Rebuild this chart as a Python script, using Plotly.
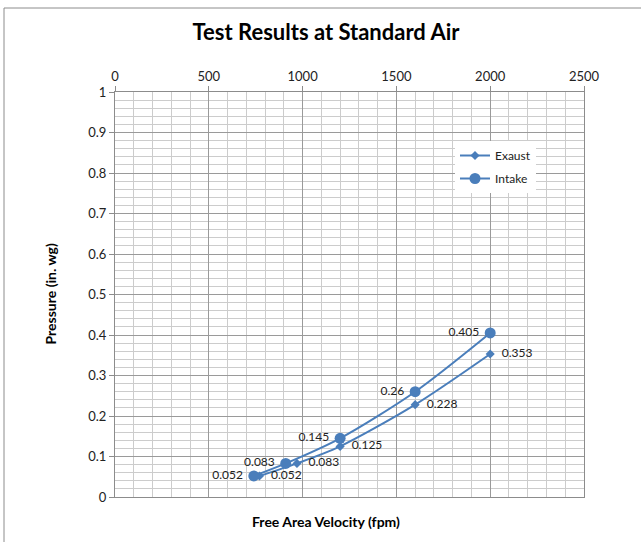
import plotly.graph_objects as go

exhaust_x = [770, 970, 1200, 1600, 2000]
exhaust_y = [0.052, 0.083, 0.125, 0.228, 0.353]
intake_x = [740, 910, 1200, 1600, 2000]
intake_y = [0.052, 0.083, 0.145, 0.26, 0.405]

blue = "#4A7EBB"
font = "Lato, Calibri, sans-serif"
W, H = 641, 542
L, R, T, B = 115, 57, 92, 45
PW, PH = W - L - R, H - T - B

fig = go.Figure()
fig.add_trace(go.Scatter(
    x=exhaust_x, y=exhaust_y, name="Exaust", mode="lines+markers+text", legendgroup="a",
    line=dict(color=blue, width=2, shape="spline", smoothing=0.8),
    marker=dict(symbol="diamond", size=7, color=blue),
    text=["  " + str(v) for v in exhaust_y], textposition="middle right",
    textfont=dict(family=font, size=12, color="#222"),
))
fig.add_trace(go.Scatter(
    x=intake_x, y=intake_y, name="Intake", mode="lines+markers+text", legendgroup="b",
    line=dict(color=blue, width=2, shape="spline", smoothing=0.8),
    marker=dict(symbol="circle", size=11, color=blue),
    text=[str(v) + " " for v in intake_y], textposition="middle left",
    textfont=dict(family=font, size=12, color="#222"),
))

fig.update_layout(
    width=W, height=H,
    margin=dict(l=L, r=R, t=T, b=B),
    paper_bgcolor="white", plot_bgcolor="white",
    font=dict(family=font, size=12, color="#222"),
    title=dict(text="<b>Test Results at Standard Air</b>", x=326 / W, xref="container",
               xanchor="center", y=1 - 32 / H, yref="container", yanchor="middle",
               font=dict(family=font, size=22, color="#000")),
    showlegend=True,
    legend=dict(x=(455 - L) / PW, y=(H - B - 141) / PH, xanchor="left", yanchor="top",
                bgcolor="white", borderwidth=0, font=dict(family=font, size=12, color="#222"),
                tracegroupgap=4, itemwidth=30),
    shapes=[
        dict(type="line", xref="paper", yref="paper", x0=-(L - 4) / PW, x1=1.2,
             y0=(H - 8 - B) / PH, y1=(H - 8 - B) / PH, line=dict(color="#8c8c8c", width=1)),
        dict(type="line", xref="paper", yref="paper", x0=-(L - 4) / PW, x1=-(L - 4) / PW,
             y0=-0.2, y1=(H - 8 - B) / PH, line=dict(color="#8c8c8c", width=1)),
    ],
)
fig.update_xaxes(
    range=[0, 2500], side="top", dtick=500, tick0=0,
    showgrid=True, gridcolor="#9a9a9a", gridwidth=1,
    minor=dict(dtick=100, showgrid=True, gridcolor="#cccccc", gridwidth=1),
    showline=True, linecolor="#8c8c8c", linewidth=1, mirror=True,
    ticks="outside", ticklen=5, tickcolor="#8c8c8c",
    zeroline=False, tickfont=dict(family=font, size=13, color="#222"),
)
fig.update_yaxes(
    range=[0, 1], dtick=0.1, tick0=0,
    showgrid=True, gridcolor="#9a9a9a", gridwidth=1,
    minor=dict(dtick=0.02, showgrid=True, gridcolor="#cccccc", gridwidth=1),
    showline=True, linecolor="#8c8c8c", linewidth=1, mirror=True,
    ticks="outside", ticklen=5, tickcolor="#8c8c8c",
    zeroline=False, tickfont=dict(family=font, size=13, color="#222"),
    tickformat="~g",
)
fig.add_annotation(text="<b>Free Area Velocity (fpm)</b>", xref="paper", yref="paper",
                   x=(326 - L) / PW, y=-(521 - (H - B)) / PH, showarrow=False,
                   xanchor="center", yanchor="middle",
                   font=dict(family=font, size=14, color="#000"))
fig.add_annotation(text="<b>Pressure (in. wg)</b>", xref="paper", yref="paper",
                   x=-(L - 50) / PW, y=0.5, showarrow=False, textangle=-90,
                   xanchor="center", yanchor="middle",
                   font=dict(family=font, size=14, color="#000"))

fig.write_html("out.html", config={"displayModeBar": False})
with open("out.html", encoding="utf-8") as f:
    html = f.read()
html = html.replace("<body>", '<body style="margin:0;padding:0">', 1)
with open("out.html", "w", encoding="utf-8") as f:
    f.write(html)
